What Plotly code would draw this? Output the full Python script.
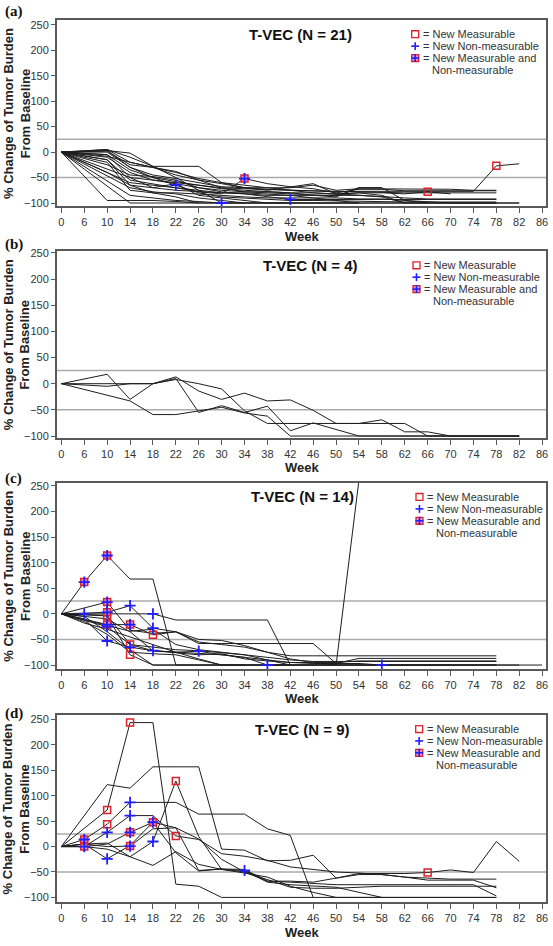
import plotly.graph_objects as go

# ---------------- data ----------------
WEEK_TICKS = [0, 6, 10, 14, 18, 22, 26, 30, 34, 38, 42, 46, 50, 54, 58, 62, 66, 70, 74, 78, 82, 86]
Y_TICKS = [-100, -50, 0, 50, 100, 150, 200, 250]
PANEL_LABELS = ["(a)", "(b)", "(c)", "(d)"]
PANEL_TITLES = ["T-VEC (N = 21)", "T-VEC (N = 4)", "T-VEC (N = 14)", "T-VEC (N = 9)"]
REF_LINES = [25, -50]
LEGEND_TEXT = ["= New Measurable", "= New Non-measurable", "= New Measurable and", "Non-measurable"]
Y_TITLE = "% Change of Tumor Burden<br>From Baseline"
X_TITLE = "Week"

# Panel (a): 21 patients
A_WEEKS = [
    [0, 10, 14, 18, 22, 26, 30, 34, 38, 42, 46, 50, 54, 58, 62, 66, 70, 74, 78, 82],
    [0, 10, 14, 18, 22, 26, 30, 34, 38, 42, 46, 50, 54, 58, 62, 66, 70],
    [0, 10, 14, 18, 22, 26, 30, 34, 38, 42, 46, 50, 54, 58, 62, 66, 70, 74, 78],
    [0, 10, 14, 18, 22, 26, 30, 34, 38, 42, 46, 50, 54, 58, 62, 66, 70, 74, 78],
    [0, 10, 14, 18, 22, 26, 30],
    [0, 10, 14, 18, 22, 26, 30, 34, 38, 42, 46, 50, 54, 58, 62, 66, 70, 74, 78],
    [0, 10, 14, 18, 22, 26, 30, 34, 38, 42, 46, 50, 54, 58, 62, 66, 70, 74, 78, 82],
    [0, 14, 18, 22, 26, 30, 34, 38, 42, 46, 50, 54, 58, 62, 66, 70, 74, 78],
    [0, 10, 14, 18, 22, 26, 30, 34, 38, 42, 46, 50, 54, 58, 62],
    [0, 10, 14, 18, 22, 26, 30, 34, 38, 42, 46, 50, 54, 58, 62, 66, 70, 74, 78],
    [0, 14, 18, 22, 26, 30, 34, 38, 42, 46, 50, 54, 58, 62, 66, 70, 74, 78, 82],
    [0, 14, 18, 22, 26, 30, 34, 38, 42, 46, 50, 54],
    [0, 10, 14, 18, 22, 26, 30, 34, 38, 42],
    [0, 10, 14, 18, 22, 26, 30, 34, 38, 42, 46, 50, 54, 58],
    [0, 10, 14, 18, 22, 26, 30, 34, 38, 42, 46, 50, 54, 58, 62, 66],
    [0, 10, 14, 18, 22, 26, 30, 34, 38, 42, 46, 50, 54],
    [0, 14, 18, 22, 26, 30, 34, 38, 42, 46, 50, 54, 58, 62, 66, 70, 74, 78],
    [0, 10, 14, 18, 22, 26],
    [0, 10, 14, 18, 22, 26, 30, 34, 38, 42, 46, 50, 54, 58, 62, 66, 70, 74, 78],
    [0, 14, 18, 22, 26, 30, 34],
    [0, 10, 14, 18, 22, 26, 30, 34, 38, 42, 46, 50, 54, 58, 62, 66, 70, 74, 78],
]
A_VALUES = [
    [0, 2, -25, -30, -38, -55, -62, -70, -73, -75, -76, -78, -77, -77, -77, -77, -77, -77, -27, -23],
    [0, -5, -35, -50, -58, -65, -72, -75, -78, -80, -80, -83, -80, -80, -82, -78, -82],
    [0, -15, -55, -62, -70, -78, -82, -52, -62, -68, -72, -80, -73, -73, -76, -76, -76, -76, -76],
    [0, 0, -30, -50, -65, -80, -88, -90, -92, -95, -95, -96, -97, -97, -98, -98, -98, -98, -98],
    [0, 3, -2, -28, -50, -75, -100],
    [0, -10, -40, -55, -62, -70, -78, -82, -88, -93, -93, -93, -93, -93, -93, -93, -93, -93, -93],
    [0, -95, -95, -95, -97, -100, -100, -100, -100, -100, -100, -100, -100, -100, -100, -100, -100, -100, -100, -100],
    [0, -100, -100, -100, -100, -100, -100, -100, -100, -100, -100, -100, -100, -100, -100, -100, -100, -100],
    [0, 5, -10, -28, -28, -28, -60, -70, -75, -68, -62, -82, -80, -85, -100],
    [0, 5, -20, -30, -45, -55, -70, -78, -80, -82, -85, -86, -70, -70, -95, -98, -100, -100, -100],
    [0, -60, -65, -70, -75, -80, -82, -85, -85, -85, -85, -85, -88, -100, -100, -100, -100, -100, -100],
    [0, -85, -90, -95, -97, -100, -100, -100, -100, -100, -100, -100],
    [0, -15, -65, -70, -62, -85, -90, -95, -100, -100],
    [0, -25, -45, -48, -55, -70, -75, -78, -78, -80, -85, -88, -70, -70],
    [0, -20, -75, -80, -80, -82, -85, -88, -90, -90, -90, -90, -92, -92, -95, -100],
    [0, -5, -50, -70, -75, -78, -80, -80, -82, -85, -90, -95, -100],
    [0, -50, -55, -60, -65, -70, -72, -74, -75, -76, -77, -78, -80, -80, -80, -80, -80, -80],
    [0, -40, -65, -80, -88, -100],
    [0, 3, -30, -45, -52, -60, -68, -70, -70, -70, -65, -75, -72, -72, -72, -73, -73, -75, -75],
    [0, -70, -78, -82, -90, -95, -100],
    [0, -8, -20, -30, -40, -52, -60, -65, -70, -75, -80, -82, -85, -88, -90, -92, -92, -92, -92],
]
A_MEAS_WEEKS, A_MEAS_VALUES = [66, 78], [-78, -27]
A_NONMEAS_WEEKS, A_NONMEAS_VALUES = [22, 30, 42], [-65, -100, -93]
A_BOTH_WEEKS, A_BOTH_VALUES = [34], [-52]

# Panel (b): 4 patients
B_WEEKS = [
    [0, 10, 14, 18, 22, 26, 30, 34, 38, 42, 46, 50, 54, 58, 62, 66, 70, 74, 78, 82],
    [0, 10, 14, 18, 22, 26, 30, 34, 38, 42, 46, 50, 54, 58, 62, 66, 70, 74, 78, 82],
    [0, 10, 14, 18, 22, 26, 30, 34, 38, 42, 46, 50, 54, 58, 62, 66, 70, 74, 78, 82],
    [0, 14, 18, 22, 26, 30, 34, 38, 42, 46, 50, 54, 58, 62, 66, 70, 74, 78, 82],
]
B_VALUES = [
    [0, 18, -30, 0, 10, -55, -42, -55, -43, -90, -75, -88, -100, -100, -100, -100, -100, -100, -100, -100],
    [0, -5, 0, 0, 8, 0, -10, -52, -76, -76, -76, -76, -76, -76, -76, -100, -100, -100, -100, -100],
    [0, 0, 0, 0, 13, -14, -30, -18, -33, -31, -51, -76, -76, -69, -92, -92, -100, -100, -100, -100],
    [0, -33, -59, -59, -52, -45, -56, -62, -100, -100, -100, -100, -100, -100, -100, -100, -100, -100, -100],
]
B_MEAS_WEEKS, B_MEAS_VALUES = [], []
B_NONMEAS_WEEKS, B_NONMEAS_VALUES = [], []
B_BOTH_WEEKS, B_BOTH_VALUES = [], []

# Panel (c): 14 patients
C_WEEKS = [
    [0, 6, 10, 14, 18, 22, 26, 30, 34, 38, 42],
    [0, 10, 14, 18, 22, 26, 30, 34, 38, 42, 46, 50, 54, 58, 62, 66, 70, 74, 78],
    [0, 6, 10, 14, 18, 22, 26, 30, 34, 38, 42, 46, 50, 54, 58, 62, 66, 70, 74, 78, 82, 86],
    [0, 10, 14, 18, 22, 26, 30, 34, 38, 42, 46, 50, 54],
    [0, 10, 14, 18, 22, 26, 30, 34, 38, 42, 46, 50, 54, 58, 62, 66, 70],
    [0, 6, 10, 14, 18, 22, 26, 30, 34, 38, 42, 46, 50, 54, 58, 62, 66, 70, 74, 78],
    [0, 10, 14, 18, 22, 26, 30, 34, 38, 42, 46, 50, 54, 58, 62, 66, 70, 74, 78],
    [0, 10, 14, 18, 22, 26, 30, 34, 38, 42, 46, 50, 54, 58, 62, 66, 70, 74, 78],
    [0, 6, 10, 14, 18, 22, 26, 30, 34, 38, 42, 46, 50, 54, 58, 62, 66, 70, 74, 78, 82],
    [0, 6, 10, 14, 18, 22, 26, 30, 34, 38, 42],
    [0, 10, 14, 18, 22, 26, 30, 34, 38, 42, 46, 50, 54, 58, 62, 66, 70, 74, 78],
    [0, 10, 14, 18, 22, 26, 30, 34, 38, 42, 46, 50, 54, 58, 62, 66, 70, 74, 78],
    [0, 6, 10, 14, 18, 22, 26, 30, 34],
    [0, 10, 14, 18, 22, 26, 30, 34, 38, 42],
]
C_VALUES = [
    [0, 62, 114, 68, 68, -100, -100, -100, -100, -100, -100],
    [0, 23, -32, -38, -35, -58, -58, -58, -58, -58, -58, -97, -87, -87, -87, -87, -87, -87, -87],
    [0, 0, 0, 0, 0, -12, -12, -12, -12, -12, -100, -100, -100, -100, -100, -100, -100, -100, -100, -100, -100, -100],
    [0, 3, 16, -28, -35, -50, -52, -62, -75, -88, -95, -100, 262],
    [0, -4, -80, -100, -100, -100, -100, -100, -100, -100, -100, -100, -100, -100, -100, -100, -100],
    [0, -10, -53, -65, -72, -75, -78, -80, -85, -100, -100, -100, -100, -100, -100, -100, -100, -100, -100, -100],
    [0, -25, -60, -72, -75, -73, -80, -85, -90, -95, -97, -97, -97, -100, -100, -100, -100, -100, -100],
    [0, -21, -21, -41, -35, -55, -60, -65, -75, -82, -82, -82, -82, -82, -82, -82, -82, -82, -82],
    [0, -18, -30, -45, -60, -75, -88, -100, -100, -100, -100, -100, -100, -100, -100, -100, -100, -100, -100, -100, -100],
    [0, -5, -35, -70, -100, -100, -100, -100, -100, -100, -100],
    [0, -10, -35, -72, -76, -80, -78, -88, -92, -95, -95, -95, -92, -92, -92, -92, -92, -92, -92],
    [0, -22, -34, -30, -60, -70, -75, -80, -85, -90, -93, -93, -93, -93, -93, -93, -93, -93, -93],
    [0, -15, -40, -75, -78, -80, -90, -100, -100],
    [0, -3, -60, -65, -70, -72, -76, -80, -90, -100],
]
C_MEAS_WEEKS, C_MEAS_VALUES = [10, 14, 14, 18], [-4, -60, -80, -41]
C_NONMEAS_WEEKS = [6, 10, 10, 14, 14, 18, 18, 18, 26, 38, 58]
C_NONMEAS_VALUES = [0, -25, -53, 16, -65, 0, -28, -72, -73, -100, -100]
C_BOTH_WEEKS, C_BOTH_VALUES = [6, 10, 10, 10, 10, 14], [62, 114, 23, 3, -21, -21]

# Panel (d): 9 patients
D_WEEKS = [
    [0, 10, 14, 18, 22, 26, 30, 34, 38, 42, 46, 50, 54, 58, 62, 66, 70, 74, 78],
    [0, 10, 14, 18, 22, 26, 30, 34, 38, 42, 46, 50, 54, 58, 62, 66, 70, 74, 78, 82],
    [0, 6, 10, 14, 18, 22, 26, 30, 34, 38, 42, 46],
    [0, 6, 10, 14, 18, 22, 26, 30, 34, 38, 42, 46, 50, 54, 58, 62, 66, 70, 74, 78],
    [0, 6, 10, 14, 18, 22, 26, 30, 34, 38, 42, 46, 50, 54, 58, 62, 66, 70, 74, 78],
    [0, 6, 10, 14, 18, 22, 26, 30, 34, 38, 42, 46, 50, 54, 58, 62, 66, 70, 74, 78],
    [0, 6, 10, 14, 18, 22, 26, 30, 34, 38, 42, 46, 50, 54, 58, 62, 66, 70, 74, 78],
    [0, 6, 10, 14, 18, 22, 26, 30, 34, 38, 42, 46, 50, 54, 58],
    [0, 6, 10, 14, 18, 22, 26, 30, 34, 38, 42, 46, 50, 54, 58, 62, 66, 70, 74, 78],
]
D_VALUES = [
    [0, 72, 244, 244, -74, -78, -100, -100, -100, -100, -100, -100, -100, -100, -100, -100, -100, -100, -100],
    [0, 122, 115, 157, 157, 157, -5, -7, -28, -27, -17, -62, -53, -53, -53, -51, -46, -51, 10, -29],
    [0, 14, 44, 87, 87, 87, 64, 64, 64, 35, 22, -100],
    [0, 0, 28, 61, 61, 21, 14, -14, -19, -27, -40, -45, -50, -52, -55, -60, -66, -66, -66, -81],
    [0, 5, 7, -20, 10, 129, 20, -45, -47, -70, -75, -78, -80, -90, -100, -100, -100, -100, -100, -100],
    [0, 5, -24, 2, 48, 37, -47, -44, -45, -68, -68, -70, -62, -55, -55, -60, -62, -64, -64, -64],
    [0, 0, 5, 28, 48, -12, -48, -44, -50, -65, -80, -82, -82, -80, -78, -78, -78, -78, -78, -78],
    [0, 0, -5, -20, -37, -10, -35, -45, -52, -60, -78, -90, -100, -100, -100],
    [0, 5, 0, 1, 35, 37, 15, -25, -50, -68, -70, -72, -75, -75, -75, -75, -75, -75, -75, -97],
]
D_MEAS_WEEKS, D_MEAS_VALUES = [10, 10, 14, 22, 22, 66], [72, 44, 244, 129, 21, -51]
D_NONMEAS_WEEKS, D_NONMEAS_VALUES = [10, 10, 14, 14, 18, 34], [28, -24, 87, 61, 10, -47]
D_BOTH_WEEKS, D_BOTH_VALUES = [6, 6, 14, 14, 18], [14, 0, 28, 1, 48]

# ---------------- layout geometry (pixels) ----------------
W, H = 553, 946
PLOT_LEFT, PLOT_RIGHT = 57, 548
PANEL_TOP = [16, 249, 482.7, 716.7]
PANEL_BOTTOM = [204, 437.5, 670.7, 906]
Y_RANGES = [[-106.4, 259.7], [-103.4, 253.8], [-107.8, 256.4], [-109.7, 259.7]]
LABEL_Y = [8, 243, 479, 716]
TITLE_X = [302, 312, 304, 303.5]
LEGEND_X = [416.7, 418, 421, 420.7]

RED = "#e0202a"
BLUE = "#1f1fff"
BOTH_FILL = "rgba(205,120,205,0.75)"
LINE_COLOR = "#1e1e1e"
AXIS_COLOR = "#5a5a5a"
FONT = "Liberation Sans, Arial, sans-serif"

def px(x):
    return x / W

def py(y):
    return 1 - y / H

panels = [
    (A_WEEKS, A_VALUES, A_MEAS_WEEKS, A_MEAS_VALUES, A_NONMEAS_WEEKS, A_NONMEAS_VALUES, A_BOTH_WEEKS, A_BOTH_VALUES),
    (B_WEEKS, B_VALUES, B_MEAS_WEEKS, B_MEAS_VALUES, B_NONMEAS_WEEKS, B_NONMEAS_VALUES, B_BOTH_WEEKS, B_BOTH_VALUES),
    (C_WEEKS, C_VALUES, C_MEAS_WEEKS, C_MEAS_VALUES, C_NONMEAS_WEEKS, C_NONMEAS_VALUES, C_BOTH_WEEKS, C_BOTH_VALUES),
    (D_WEEKS, D_VALUES, D_MEAS_WEEKS, D_MEAS_VALUES, D_NONMEAS_WEEKS, D_NONMEAS_VALUES, D_BOTH_WEEKS, D_BOTH_VALUES),
]

cats = [str(w) for w in WEEK_TICKS]
fig = go.Figure()
shapes = []
annotations = []
layout_axes = {}


def key_square(cx, cy, fill):
    s = 3.5
    return dict(type="rect", xref="paper", yref="paper",
                x0=px(cx - s), x1=px(cx + s), y0=py(cy + s), y1=py(cy - s),
                line=dict(color=RED, width=1.3), fillcolor=fill, layer="above")


def key_plus(cx, cy):
    s = 4
    return [dict(type="line", xref="paper", yref="paper", x0=px(cx - s), x1=px(cx + s),
                 y0=py(cy), y1=py(cy), line=dict(color=BLUE, width=1.6), layer="above"),
            dict(type="line", xref="paper", yref="paper", x0=px(cx), x1=px(cx),
                 y0=py(cy - s), y1=py(cy + s), line=dict(color=BLUE, width=1.6), layer="above")]


for i, (wk, vals, mw, mv, nw, nv, bw, bv) in enumerate(panels):
    n = "" if i == 0 else str(i + 1)
    xa, ya = "x" + n, "y" + n
    for w, v in zip(wk, vals):
        fig.add_trace(go.Scatter(x=[str(k) for k in w], y=v, mode="lines",
                                 line=dict(color=LINE_COLOR, width=1),
                                 xaxis=xa, yaxis=ya, showlegend=False, hoverinfo="skip"))
    if bw:
        fig.add_trace(go.Scatter(x=[str(k) for k in bw], y=bv, mode="markers",
                                 marker=dict(symbol="square", size=7, color=BOTH_FILL,
                                             line=dict(color=RED, width=1.5)),
                                 xaxis=xa, yaxis=ya, showlegend=False, hoverinfo="skip", cliponaxis=False))
    if mw:
        fig.add_trace(go.Scatter(x=[str(k) for k in mw], y=mv, mode="markers",
                                 marker=dict(symbol="square-open", size=7, color=RED,
                                             line=dict(color=RED, width=1.5)),
                                 xaxis=xa, yaxis=ya, showlegend=False, hoverinfo="skip", cliponaxis=False))
    crossw = list(bw) + list(nw)
    crossv = list(bv) + list(nv)
    if crossw:
        fig.add_trace(go.Scatter(x=[str(k) for k in crossw], y=crossv, mode="markers",
                                 marker=dict(symbol="cross-thin", size=8,
                                             line=dict(color=BLUE, width=1.8)),
                                 xaxis=xa, yaxis=ya, showlegend=False, hoverinfo="skip", cliponaxis=False))

    dom_y = [py(PANEL_BOTTOM[i]), py(PANEL_TOP[i])]
    common = dict(showline=True, linecolor=AXIS_COLOR, linewidth=1.5, mirror=True,
                  showgrid=False, zeroline=False, ticks="outside", tickcolor=AXIS_COLOR,
                  tickwidth=1, tickfont=dict(family=FONT, size=11, color="#333333"))
    layout_axes["xaxis" + n] = dict(common, domain=[px(PLOT_LEFT), px(PLOT_RIGHT)], anchor=ya,
                                    type="category", categoryorder="array", categoryarray=cats,
                                    tickmode="array", tickvals=cats, ticktext=cats,
                                    range=[-0.2, 21.17], ticklen=5)
    layout_axes["yaxis" + n] = dict(common, domain=dom_y, anchor=xa, range=Y_RANGES[i],
                                    tickmode="array", tickvals=Y_TICKS, ticklen=4)

    for r in REF_LINES:
        shapes.append(dict(type="line", xref=xa + " domain", yref=ya, x0=0, x1=1, y0=r, y1=r,
                           line=dict(color="#ababab", width=1.5), layer="below"))

    top, bot = PANEL_TOP[i], PANEL_BOTTOM[i]
    annotations.append(dict(text="<b>" + PANEL_LABELS[i] + "</b>", x=px(3), y=py(LABEL_Y[i]),
                            xref="paper", yref="paper", xanchor="left", yanchor="middle",
                            showarrow=False, font=dict(family="Liberation Serif, Times New Roman, serif",
                                                       size=15, color="#111111")))
    annotations.append(dict(text="<b>" + Y_TITLE + "</b>", x=px(17), y=py((top + bot) / 2),
                            xref="paper", yref="paper", xanchor="center", yanchor="middle",
                            textangle=-90, showarrow=False,
                            font=dict(family=FONT, size=13, color="#222222")))
    annotations.append(dict(text="<b>" + X_TITLE + "</b>", x=px(303), y=py(bot + 30),
                            xref="paper", yref="paper", xanchor="center", yanchor="middle",
                            showarrow=False, font=dict(family=FONT, size=13, color="#222222")))
    annotations.append(dict(text="<b>" + PANEL_TITLES[i] + "</b>", x=px(TITLE_X[i]), y=py(top + 14.5),
                            xref="paper", yref="paper", xanchor="center", yanchor="middle",
                            showarrow=False, font=dict(family=FONT, size=15, color="#111111")))
    # legend keys (shapes) and texts
    lx = LEGEND_X[i]
    rows = [top + 14.5, top + 26.5, top + 38.5, top + 50.5]
    shapes.append(key_square(lx, rows[0], "rgba(0,0,0,0)"))
    shapes.extend(key_plus(lx, rows[1]))
    shapes.append(key_square(lx, rows[2], BOTH_FILL))
    shapes.extend(key_plus(lx, rows[2]))
    for k, t in enumerate(LEGEND_TEXT):
        annotations.append(dict(text=t, x=px(lx + 6 if k < 3 else lx + 15), y=py(rows[k]),
                                xref="paper", yref="paper", xanchor="left", yanchor="middle",
                                showarrow=False, font=dict(family=FONT, size=11, color="#333333")))

fig.update_layout(width=W, height=H, autosize=False, margin=dict(l=0, r=0, t=0, b=0),
                  paper_bgcolor="white", plot_bgcolor="white", showlegend=False,
                  shapes=shapes, annotations=annotations, **layout_axes)

fig.write_html("out.html")
